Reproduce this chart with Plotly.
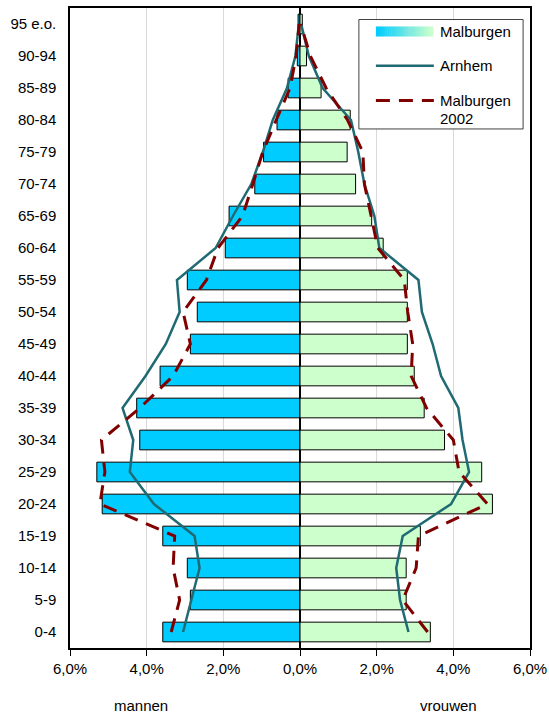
import plotly.graph_objects as go

categories = ["0-4", "5-9", "10-14", "15-19", "20-24", "25-29", "30-34", "35-39",
              "40-44", "45-49", "50-54", "55-59", "60-64", "65-69", "70-74",
              "75-79", "80-84", "85-89", "90-94", "95 e.o."]

malburgen_men = [3.58, 2.86, 2.94, 3.58, 5.16, 5.30, 4.18, 4.26, 3.65, 2.86,
                 2.68, 2.94, 1.95, 1.85, 1.18, 0.95, 0.60, 0.31, 0.07, 0.05]
malburgen_women = [3.40, 2.77, 2.77, 3.14, 5.02, 4.74, 3.77, 3.24, 2.98, 2.80,
                   2.80, 2.80, 2.17, 1.87, 1.45, 1.23, 1.31, 0.55, 0.17, 0.06]

arnhem_men = [3.05, 2.83, 2.62, 2.75, 3.81, 4.44, 4.35, 4.63, 4.03, 3.50,
              3.14, 3.21, 2.20, 1.75, 1.27, 0.97, 0.71, 0.34, 0.12, 0.03]
arnhem_women = [2.83, 2.61, 2.51, 2.68, 3.94, 4.41, 4.24, 4.13, 3.68, 3.46,
                3.18, 3.09, 2.07, 1.94, 1.68, 1.52, 1.33, 0.59, 0.23, 0.03]

malburgen2002_men = [3.36, 3.14, 3.31, 3.27, 5.22, 5.09, 5.18, 4.18, 3.31, 2.86,
                     3.05, 2.44, 2.14, 1.50, 1.23, 0.97, 0.62, 0.26, 0.10, 0.02]
malburgen2002_women = [3.33, 2.68, 3.03, 3.09, 4.89, 4.15, 4.00, 3.30, 2.90, 2.94,
                       2.81, 2.72, 2.03, 1.85, 1.68, 1.64, 1.24, 0.68, 0.27, 0.02]

tick_vals = [-6, -4, -2, 0, 2, 4, 6]
tick_text = ["6,0%", "4,0%", "2,0%", "0,0%", "2,0%", "4,0%", "6,0%"]

FONT = "Liberation Sans, Arial, sans-serif"
CYAN = "#00CCFF"
GREEN = "#CCFFCC"
TEAL = "#1F6A73"
DRED = "#800000"

fig = go.Figure()

fig.add_trace(go.Bar(y=categories, x=[-v for v in malburgen_men], orientation="h",
                     marker=dict(color=CYAN, line=dict(color="black", width=1)),
                     name="Malburgen", showlegend=False))
fig.add_trace(go.Bar(y=categories, x=malburgen_women, orientation="h",
                     marker=dict(color=GREEN, line=dict(color="black", width=1)),
                     name="Malburgen", showlegend=False))

for vals, sign in [(arnhem_men, -1), (arnhem_women, 1)]:
    fig.add_trace(go.Scatter(y=categories, x=[sign * v for v in vals], mode="lines",
                             line=dict(color=TEAL, width=2.5), name="Arnhem",
                             showlegend=False))
for vals, sign in [(malburgen2002_men, -1), (malburgen2002_women, 1)]:
    fig.add_trace(go.Scatter(y=categories, x=[sign * v for v in vals], mode="lines",
                             line=dict(color=DRED, width=3, dash="14px,9px"),
                             name="Malburgen 2002", showlegend=False))

# manual legend
shapes = []
shapes.append(dict(type="rect", xref="paper", yref="paper", x0=0.628, x1=0.985,
                   y0=0.811, y1=0.982, fillcolor="white",
                   line=dict(color="#404040", width=1), layer="above"))
n = 30
x0s, x1s = 0.665, 0.789
for i in range(n):
    t = i / (n - 1)
    c0 = (0x00, 0xCC, 0xFF)
    c1 = (0xCC, 0xFF, 0xCC)
    col = "rgb(%d,%d,%d)" % tuple(round(a + (b - a) * t) for a, b in zip(c0, c1))
    xa = x0s + (x1s - x0s) * i / n
    xb = x0s + (x1s - x0s) * (i + 1) / n
    shapes.append(dict(type="rect", xref="paper", yref="paper", x0=xa, x1=xb + 0.001,
                       y0=0.9555, y1=0.9711, fillcolor=col, line=dict(width=0),
                       layer="above"))
shapes.append(dict(type="line", xref="paper", yref="paper", x0=0.665, x1=0.791,
                   y0=0.9097, y1=0.9097, line=dict(color=TEAL, width=2.5), layer="above"))
shapes.append(dict(type="line", xref="paper", yref="paper", x0=0.665, x1=0.791,
                   y0=0.8556, y1=0.8556, line=dict(color=DRED, width=3, dash="14px,9px"),
                   layer="above"))

annotations = [
    dict(text="Malburgen", x=0.8, y=0.9633, xref="paper", yref="paper",
         xanchor="left", yanchor="middle", showarrow=False),
    dict(text="Arnhem", x=0.8, y=0.910, xref="paper", yref="paper",
         xanchor="left", yanchor="middle", showarrow=False),
    dict(text="Malburgen", x=0.8, y=0.8556, xref="paper", yref="paper",
         xanchor="left", yanchor="middle", showarrow=False),
    dict(text="2002", x=0.8, y=0.8267, xref="paper", yref="paper",
         xanchor="left", yanchor="middle", showarrow=False),
    dict(text="mannen", x=0.155, y=-0.090, xref="paper", yref="paper",
         xanchor="center", yanchor="middle", showarrow=False),
    dict(text="vrouwen", x=0.822, y=-0.090, xref="paper", yref="paper",
         xanchor="center", yanchor="middle", showarrow=False),
]

fig.update_layout(
    width=549, height=715,
    margin=dict(l=70, r=19, t=8, b=67, autoexpand=False),
    paper_bgcolor="white", plot_bgcolor="white",
    barmode="overlay", bargap=0.385,
    font=dict(family=FONT, size=15, color="black"),
    shapes=shapes, annotations=annotations,
    showlegend=False,
)
fig.update_xaxes(range=[-6, 6], tickvals=tick_vals, ticktext=tick_text,
                 showgrid=True, gridcolor="#D9D9D9", gridwidth=1,
                 zeroline=True, zerolinecolor="black", zerolinewidth=1.5,
                 showline=True, linecolor="black", linewidth=1.5, mirror=True,
                 ticks="outside", ticklen=6, tickcolor="black", tickwidth=1,
                 tickfont=dict(size=15), automargin=False)
fig.update_yaxes(type="category", categoryorder="array", categoryarray=categories,
                 range=[-0.5, 19.5],
                 showgrid=False, showline=True, linecolor="black", linewidth=1.5,
                 mirror=True, ticks="", ticklabelstandoff=9,
                 tickfont=dict(size=15), automargin=False)

fig.write_html("out.html", config={"displayModeBar": False},
               post_script="document.body.style.margin='0';document.body.style.padding='0';")
